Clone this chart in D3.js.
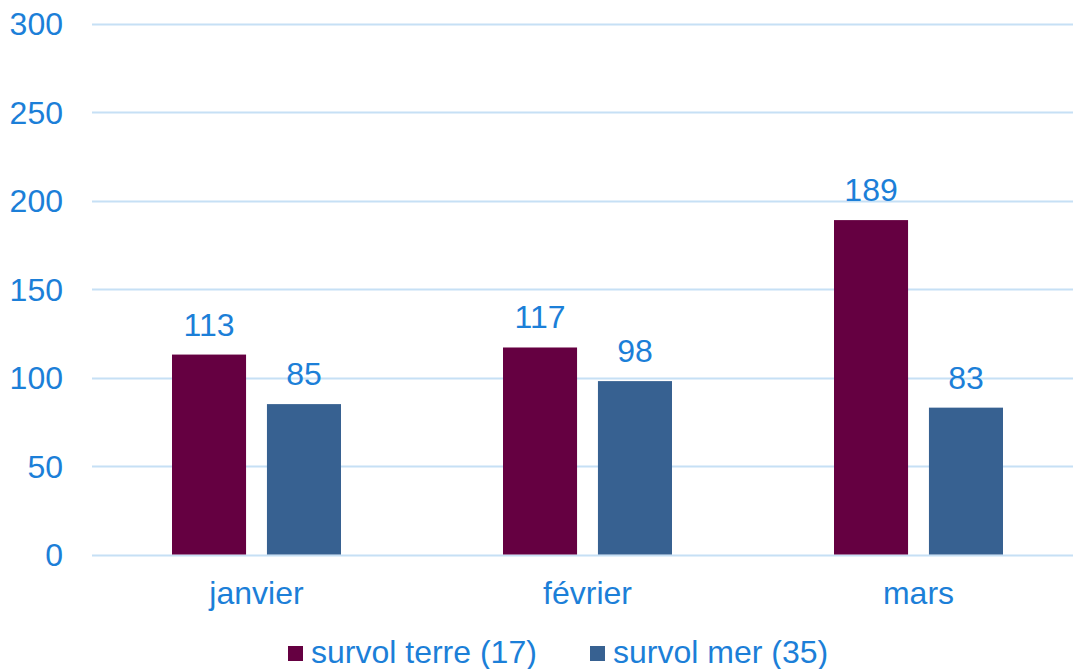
<!DOCTYPE html>
<html lang="en">
<head>
	<meta charset="utf-8">
	<title>Survols</title>
	<script src="https://d3js.org/d3.v7.min.js"></script>
	<style>
	body { margin: 0; background: #fff; }
	text { font-family: "Liberation Sans", Arial, sans-serif; fill: #1c7fd8; }
	</style>
</head>
<body>
	<script>
	// data
	var months = ["janvier", "février", "mars"];
	var seriesNames = ["survol terre (17)", "survol mer (35)"];
	var terre = [113, 117, 189];
	var mer = [85, 98, 83];
	var yTicks = [0, 50, 100, 150, 200, 250, 300];
	var colors = ["#650041", "#376191"];

	var w = 1073, h = 669;
	var svg = d3.select("body").append("svg")
		.attr("width", w)
		.attr("height", h);

	var x = d3.scaleBand().domain(months).range([91, 1084]);
	var y = d3.scaleLinear().domain([0, 300]).range([554.5, 23.7]);
	// bars within each month
	var inner = d3.scaleBand().domain([0, 1]).range([81, 250]).paddingInner(0.22);

	// gridlines
	svg.append("g").selectAll("line")
		.data(yTicks)
		.enter().append("line")
		.attr("x1", 92).attr("x2", w)
		.attr("y1", function(d){ return Math.round(y(d)) + 0.5; })
		.attr("y2", function(d){ return Math.round(y(d)) + 0.5; })
		.attr("stroke", "#c6e0f5")
		.attr("stroke-width", 2);

	// y tick labels
	svg.append("g").selectAll("text")
		.data(yTicks)
		.enter().append("text")
		.attr("x", 63)
		.attr("y", function(d){ return y(d); })
		.attr("dy", "0.36em")
		.attr("text-anchor", "end")
		.attr("font-size", 32)
		.text(function(d){ return d; });

	var rows = months.map(function(m, i){
		return { month: m, vals: [terre[i], mer[i]] };
	});

	var groups = svg.selectAll("g.month")
		.data(rows)
		.enter().append("g")
		.attr("class", "month")
		.attr("transform", function(d){ return "translate(" + x(d.month) + ",0)"; });

	groups.selectAll("rect")
		.data(function(d){ return d.vals; })
		.enter().append("rect")
		.attr("x", function(d, i){ return inner(i); })
		.attr("y", function(d){ return y(d); })
		.attr("width", inner.bandwidth())
		.attr("height", function(d){ return y(0) - y(d); })
		.attr("fill", function(d, i){ return colors[i]; });

	// value labels
	groups.selectAll("text.val")
		.data(function(d){ return d.vals; })
		.enter().append("text")
		.attr("class", "val")
		.attr("x", function(d, i){ return inner(i) + inner.bandwidth() / 2; })
		.attr("y", function(d){ return y(d) - 19; })
		.attr("text-anchor", "middle")
		.attr("font-size", 32)
		.text(function(d){ return d; });

	// month labels
	groups.append("text")
		.attr("x", x.bandwidth() / 2)
		.attr("y", 604)
		.attr("text-anchor", "middle")
		.attr("font-size", 32)
		.text(function(d){ return d.month; });

	// legend
	var legX = [288, 590];
	var leg = svg.selectAll("g.leg")
		.data(seriesNames)
		.enter().append("g")
		.attr("class", "leg")
		.attr("transform", function(d, i){ return "translate(" + legX[i] + ",0)"; });
	leg.append("rect")
		.attr("x", 0).attr("y", 646)
		.attr("width", 15).attr("height", 15)
		.attr("fill", function(d, i){ return colors[i]; });
	leg.append("text")
		.attr("x", 23).attr("y", 663)
		.attr("font-size", 32)
		.text(function(d){ return d; });
	</script>
</body>
</html>
